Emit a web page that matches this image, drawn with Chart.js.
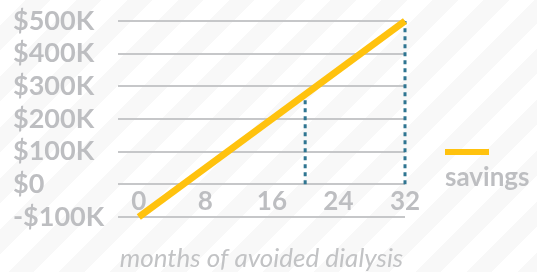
<!DOCTYPE html>
<html>
<head>
<meta charset="utf-8">
<script src="https://cdn.jsdelivr.net/npm/chart.js@4"></script>
<style>
  html, body { margin: 0; padding: 0; }
  body {
    width: 537px; height: 272px; overflow: hidden;
    background: repeating-linear-gradient(135deg, #ffffff 0px, #ffffff 18px, #f8f8f8 18px, #f8f8f8 36px);
  }
  #wrap { position: relative; width: 537px; height: 272px; }
</style>
</head>
<body>
<div id="wrap"><canvas id="savingsChart"></canvas></div>
<script>
// datos
const months = [0, 32];
const savings = [-100000, 500000];
const markerMonths = [20, 32];
const markerValues = [275000, 500000];
const xTicks = [0, 8, 16, 24, 32];
const yTicks = [-100000, 0, 100000, 200000, 300000, 400000, 500000];

const gray = '#bdbec1';
const yellow = '#ffc20e';
const teal = '#2f7591';

function money(v) {
    if (v === 0) return '$0';
    return (v < 0 ? '-' : '') + '$' + Math.abs(v) / 1000 + 'K';
}

// lineas punteadas verticales desde $0 hasta la linea
const markerData = [];
markerMonths.forEach(function (m, i) {
    markerData.push({ x: m, y: 0 }, { x: m, y: markerValues[i] }, { x: m, y: null });
});

// leyenda a la derecha: linea arriba y texto abajo
const sideLegend = {
    id: 'sideLegend',
    afterDraw(chart) {
        const ds = chart.data.datasets[0];
        const ctx = chart.ctx;
        ctx.save();
        ctx.strokeStyle = ds.borderColor;
        ctx.lineWidth = 6;
        ctx.beginPath();
        ctx.moveTo(445, 152);
        ctx.lineTo(489, 152);
        ctx.stroke();
        ctx.fillStyle = gray;
        ctx.font = 'bold 26px Lato';
        ctx.textBaseline = 'middle';
        ctx.textAlign = 'left';
        ctx.fillText(ds.label, 445, 178);
        ctx.restore();
    }
};

const ctx = document.getElementById('savingsChart').getContext('2d');
new Chart(ctx, {
    type: 'line',
    data: {
        datasets: [{
            label: 'savings',
            data: months.map((m, i) => ({ x: m, y: savings[i] })),
            borderColor: yellow,
            borderWidth: 7,
            borderCapStyle: 'butt',
            pointRadius: 0,
            clip: false,
            order: 0
        }, {
            label: 'marker',
            data: markerData,
            borderColor: teal,
            borderWidth: 3,
            borderDash: [4, 4],
            pointRadius: 0,
            spanGaps: false,
            clip: false,
            order: 1
        }]
    },
    options: {
        responsive: true,
        maintainAspectRatio: false,
        animation: false,
        layout: {
            padding: { left: 13, right: 132, top: 21, bottom: 0 }
        },
        plugins: {
            legend: { display: false },
            tooltip: { enabled: false },
            title: {
                display: true,
                position: 'bottom',
                fullSize: false,
                text: 'months of avoided dialysis',
                color: '#c2c3c5',
                font: { family: 'Lato', size: 26, style: 'italic', weight: 'normal', lineHeight: 1 },
                padding: { top: 29, bottom: 0 }
            }
        },
        scales: {
            x: {
                type: 'linear',
                position: { y: 0 },
                min: -2.5,
                max: 32,
                afterBuildTicks(scale) {
                    scale.ticks = xTicks.map(v => ({ value: v }));
                },
                grid: { display: false },
                border: { display: false },
                ticks: {
                    color: gray,
                    font: { family: 'Lato', size: 26, weight: 'bold' },
                    padding: -6,
                    maxRotation: 0,
                    autoSkip: false
                }
            },
            y: {
                min: -100000,
                max: 500000,
                afterBuildTicks(scale) {
                    scale.ticks = yTicks.map(v => ({ value: v }));
                },
                afterFit(scale) {
                    scale.width = 105;
                },
                grid: { color: '#c6c7c9', lineWidth: 2, drawTicks: false },
                border: { display: false },
                ticks: {
                    color: gray,
                    crossAlign: 'far',
                    autoSkip: false,
                    font: { family: 'Lato', size: 27, weight: 'bold' },
                    callback: v => money(v)
                }
            }
        }
    },
    plugins: [sideLegend]
});
</script>
</body>
</html>
